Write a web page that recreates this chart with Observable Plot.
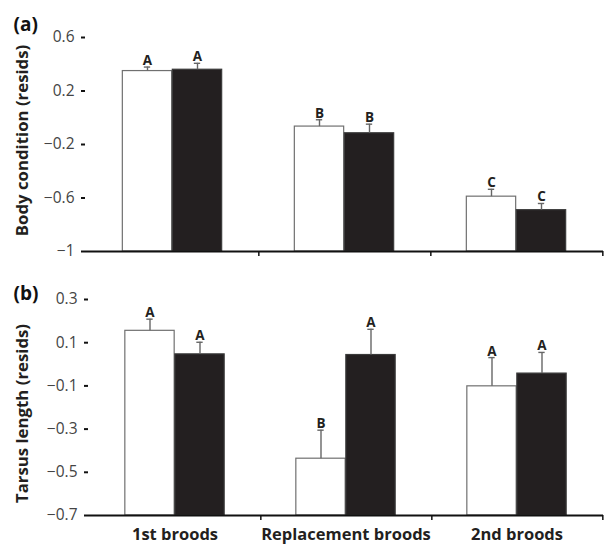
<!DOCTYPE html>
<html><head><meta charset="utf-8">
<script src="https://cdn.jsdelivr.net/npm/d3@7"></script>
<script src="https://cdn.jsdelivr.net/npm/@observablehq/plot@0.6"></script>
<style>
body{margin:0;background:#fff;}
#chart{width:605px;}
#chart svg{display:block;}
</style></head><body><div id="chart"></div>
<script>
const categories = ["1st broods", "Replacement broods", "2nd broods"];
const groups = ["white", "black"];

const bodyWhite = [0.349, -0.066, -0.59];
const bodyWhiteErr = [0.03, 0.051, 0.055];
const bodyWhiteLetters = ["A", "B", "C"];
const bodyBlack = [0.359, -0.116, -0.691];
const bodyBlackErr = [0.048, 0.068, 0.05];
const bodyBlackLetters = ["A", "B", "C"];

const tarsusWhite = [0.155, -0.437, -0.102];
const tarsusWhiteErr = [0.054, 0.132, 0.133];
const tarsusWhiteLetters = ["A", "B", "A"];
const tarsusBlack = [0.046, 0.043, -0.043];
const tarsusBlackErr = [0.056, 0.119, 0.098];
const tarsusBlackLetters = ["A", "A", "A"];

const bodyTicks = [0.6, 0.2, -0.2, -0.6, -1];
const tarsusTicks = [0.3, 0.1, -0.1, -0.3, -0.5, -0.7];

function rows(w, we, wl, b, be, bl) {
  return categories.flatMap((c, i) => [
    {cat: c, group: "white", value: w[i], upper: w[i] + we[i], letter: wl[i]},
    {cat: c, group: "black", value: b[i], upper: b[i] + be[i], letter: bl[i]}
  ]);
}

const fmt = d => String(d).replace("-", "\u2212");

function panel({data, ticks, title, tag, height, marginTop, marginBottom, marginLeft, showX, titleDx, titleDy, tagDx, tagDy}) {
  const marginRight = 2;
  const bw = (605 - marginLeft - marginRight) / categories.length;
  const barW = 50;
  const off = g => g === "white" ? -barW / 2 : barW / 2;
  const ins = (g, half) => ({insetLeft: bw / 2 + off(g) - half, insetRight: bw / 2 - off(g) - half});
  const ymin = d3.min(ticks), ymax = d3.max(ticks);
  const marks = [];
  for (const g of groups) {
    const d = data.filter(r => r.group === g);
    marks.push(Plot.barY(d, {x: "cat", y1: ymin, y2: "value",
      fill: g === "white" ? "#ffffff" : "#231f20",
      stroke: g === "white" ? "#707070" : "#3a3a3a", strokeWidth: 1.2, ...ins(g, barW / 2)}));
  }
  for (const g of groups) {
    const d = data.filter(r => r.group === g);
    marks.push(Plot.ruleX(d, {x: "cat", y1: "value", y2: "upper", dx: off(g), stroke: "#666", strokeWidth: 1.4}));
    marks.push(Plot.tickY(d, {x: "cat", y: "upper", stroke: "#666", strokeWidth: 1.4, ...ins(g, 3.5)}));
    marks.push(Plot.text(d, {x: "cat", y: "upper", text: "letter", dx: off(g), dy: -2, lineAnchor: "bottom",
      fontSize: 13.5, fontWeight: "bold", fill: "#231f20"}));
  }
  marks.push(Plot.ruleY([ymin], {stroke: "#111", strokeWidth: 2}));
  marks.push(Plot.ruleX(categories, {x: d => d, dx: bw / 2, y1: ymin, y2: ymin, insetBottom: -5, stroke: "#111", strokeWidth: 1.5}));
  marks.push(Plot.axisY(ticks, {tickSize: 4, tickPadding: 7, tickFormat: fmt, fontSize: 15.5, line: true, strokeWidth: 2, stroke: "#111", label: null, fill: "#444"}));
  marks.push(Plot.text([title], {frameAnchor: "left", textAnchor: "middle", rotate: -90, dx: titleDx, dy: titleDy, fontSize: 16.8, fontWeight: "bold", fill: "#231f20"}));
  marks.push(Plot.text([tag], {frameAnchor: "top-left", textAnchor: "start", lineAnchor: "middle", dx: tagDx, dy: tagDy, fontSize: 19, fontWeight: "bold", fill: "#111"}));
  if (showX) {
    marks.push(Plot.axisX({tickSize: 0, tickPadding: 13, fontSize: 16.5, fontWeight: "bold", label: null, fill: "#231f20"}));
  }
  return Plot.plot({
    width: 605, height, marginTop, marginBottom, marginLeft, marginRight,
    style: {fontFamily: "'Open Sans', Lato, sans-serif", color: "#231f20", background: "#fff"},
    x: {type: "band", domain: categories, padding: 0, axis: null},
    y: {domain: [ymin, ymax], axis: null},
    marks
  });
}

const topPanel = panel({
  data: rows(bodyWhite, bodyWhiteErr, bodyWhiteLetters, bodyBlack, bodyBlackErr, bodyBlackLetters),
  ticks: bodyTicks, title: "Body condition (resids)", tag: "(a)",
  height: 270, marginTop: 37, marginBottom: 19, marginLeft: 85, showX: false,
  titleDx: -63, titleDy: -4, tagDx: -72, tagDy: -13
});
const bottomPanel = panel({
  data: rows(tarsusWhite, tarsusWhiteErr, tarsusWhiteLetters, tarsusBlack, tarsusBlackErr, tarsusBlackLetters),
  ticks: tarsusTicks, title: "Tarsus length (resids)", tag: "(b)",
  height: 277, marginTop: 29, marginBottom: 32, marginLeft: 88, showX: true,
  titleDx: -66, titleDy: 6, tagDx: -75, tagDy: -6
});
document.getElementById("chart").append(topPanel, bottomPanel);
</script>
</body></html>
